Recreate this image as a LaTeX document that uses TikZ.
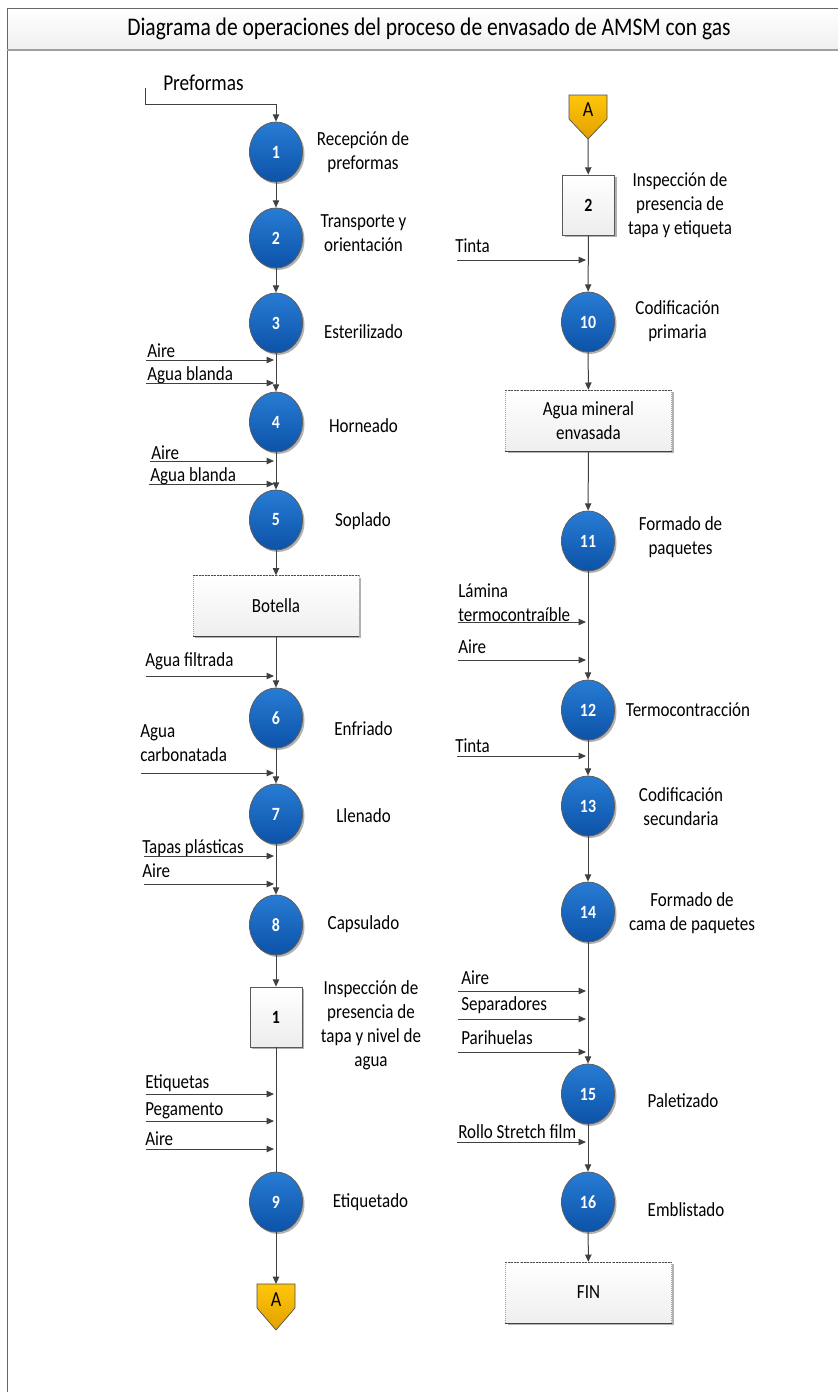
\documentclass[tikz,border=0pt]{standalone}
\usepackage{fontspec}
\setmainfont{Carlito}[FakeStretch=0.85]
\usetikzlibrary{arrows.meta,shapes.geometric,shadows}

\definecolor{opblueA}{RGB}{40,124,212}
\definecolor{opblueB}{RGB}{12,82,168}
\definecolor{linegray}{RGB}{64,64,64}
\definecolor{goldtop}{RGB}{255,198,10}
\definecolor{goldbot}{RGB}{226,160,0}

\newcommand{\lblfont}{\fontsize{15}{18}\selectfont}

\tikzset{
  softshadow/.style={drop shadow={shadow xshift=1.5pt, shadow yshift=-1.5pt, fill=black, opacity=0.3}},
  opnode/.style={ellipse, minimum width=39.75pt, minimum height=45pt, inner sep=0pt,
    draw=linegray!85, line width=0.6pt, top color=opblueA, bottom color=opblueB,
    text=white, font=\fontsize{14}{16}\selectfont\bfseries, softshadow},
  inspnode/.style={rectangle, minimum width=39pt, minimum height=45pt, inner sep=0pt,
    draw=gray!70!black, line width=0.6pt, top color=white, bottom color=gray!14,
    font=\fontsize{14}{16}\selectfont\bfseries, softshadow},
  statebox/.style={rectangle, minimum width=124.5pt, minimum height=45.5pt, inner sep=0pt,
    draw=gray!70, densely dotted, line width=0.5pt, top color=white, bottom color=gray!13,
    align=center, font=\lblfont, softshadow},
  lbl/.style={align=center, font=\lblfont, inner sep=0pt},
  inlbl/.style={anchor=west, align=left, font=\lblfont, inner sep=0pt},
  flow/.style={draw=linegray, line width=0.75pt, -{Triangle[length=5.5pt,width=4.8pt]}},
  plain/.style={draw=linegray, line width=0.75pt},
}

\newcommand{\boxedges}[1]{%
  \draw[gray!60!black, line width=0.5pt, dash pattern=on 1.5pt off 0.8pt] (#1.north west) -- (#1.north east);
  \draw[linegray, line width=1pt] (#1.south west) -- (#1.south east);}

\begin{document}
\begin{tikzpicture}[x=0.75pt,y=-0.75pt]
\useasboundingbox (0,0) rectangle (838,1392);

% frame and title band
\shade[top color=white, bottom color=gray!12] (7,8) rectangle (838,50);
\draw[gray!80!black, line width=0.7pt] (7,1392) -- (7,8) -- (838,8);
\draw[gray!75, line width=1pt] (7,50) -- (838,50);
\node[font=\fontsize{19}{22}\selectfont, inner sep=0pt] (title) at (429,29)
  {Diagrama de operaciones del proceso de envasado de AMSM con gas};

% ---------------- left column ----------------
\node[inlbl, font=\fontsize{17}{20}\selectfont] (pftxt) at (163,83) {Preformas};
\coordinate (pf) at (145,88);

\node[opnode] (o1) at (276,152) {1};
\node[opnode] (o2) at (276,238) {2};
\node[opnode] (o3) at (276,323) {3};
\node[opnode] (o4) at (276,422) {4};
\node[opnode] (o5) at (276,520) {5};
\node[statebox] (bot) at (276,606) {Botella};
\boxedges{bot}
\node[opnode] (o6) at (276,718) {6};
\node[opnode] (o7) at (276,814) {7};
\node[opnode] (o8) at (276,925) {8};
\node[inspnode] (i1) at (276,1017) {1};
\node[opnode] (o9) at (276,1202) {9};

% off-page connector A (out)
\coordinate (aoutT) at (276,1284);
\shade[top color=goldtop, bottom color=goldbot, draw=gray!60!black, line width=0.5pt]
  (257,1284) -- (295,1284) -- (295,1308) -- (276,1330) -- (257,1308) -- cycle;
\node[font=\fontsize{16}{18}\selectfont, inner sep=0pt] (aout) at (276,1300) {A};

% step labels
\node[lbl] (l1) at (363,152) {Recepción de\\preformas};
\node[lbl] (l2) at (363.5,233) {Transporte y\\orientación};
\node[lbl] (l3) at (363.5,332) {Esterilizado};
\node[lbl] (l4) at (363.5,426) {Horneado};
\node[lbl] (l5) at (363,521) {Soplado};
\node[lbl] (l6) at (363.5,729) {Enfriado};
\node[lbl] (l7) at (363.5,816) {Llenado};
\node[lbl] (l8) at (363.5,924) {Capsulado};
\node[lbl] (li1) at (371,1025.5) {Inspección de\\presencia de\\tapa y nivel de\\agua};
\node[lbl] (l9) at (370.5,1202) {Etiquetado};

% main flow
\draw[flow] (pf) -- (145,104) -- (276,104) -- (o1);
\draw[flow] (o1) -- (o2);
\draw[flow] (o2) -- (o3);
\draw[flow] (o3) -- (o4);
\draw[flow] (o4) -- (o5);
\draw[flow] (o5) -- (bot);
\draw[flow] (bot) -- (o6);
\draw[flow] (o6) -- (o7);
\draw[flow] (o7) -- (o8);
\draw[flow] (o8) -- (i1);
\draw[plain] (i1) -- (o9);
\draw[flow] (o9) -- (aoutT);

% inputs, left column
\node[inlbl] (n1) at (147,351) {Aire};
\coordinate (s1) at (146,360); \coordinate (e1) at (274,360);
\draw[flow] (s1) -- (e1);
\node[inlbl] (n2) at (147,375) {Agua blanda};
\coordinate (s2) at (146,383); \coordinate (e2) at (274,383);
\draw[flow] (s2) -- (e2);
\node[inlbl] (n3) at (151,453) {Aire};
\coordinate (s3) at (150,461); \coordinate (e3) at (274,461);
\draw[flow] (s3) -- (e3);
\node[inlbl] (n4) at (150,476) {Agua blanda};
\coordinate (s4) at (149,484); \coordinate (e4) at (274,484);
\draw[flow] (s4) -- (e4);
\node[inlbl] (n5) at (145,661) {Agua filtrada};
\coordinate (s5) at (146,676); \coordinate (e5) at (274,676);
\draw[flow] (s5) -- (e5);
\node[inlbl] (n6) at (140,743) {Agua\\carbonatada};
\coordinate (s6) at (141,773); \coordinate (e6) at (274,773);
\draw[flow] (s6) -- (e6);
\node[inlbl] (n7) at (142,848) {Tapas plásticas};
\coordinate (s7) at (144,856); \coordinate (e7) at (274,856);
\draw[flow] (s7) -- (e7);
\node[inlbl] (n8) at (142,871) {Aire};
\coordinate (s8) at (144,884); \coordinate (e8) at (274,884);
\draw[flow] (s8) -- (e8);
\node[inlbl] (n9) at (145,1083) {Etiquetas};
\coordinate (s9) at (146,1094); \coordinate (e9) at (274,1094);
\draw[flow] (s9) -- (e9);
\node[inlbl] (n10) at (145,1111) {Pegamento};
\coordinate (s10) at (146,1121); \coordinate (e10) at (274,1121);
\draw[flow] (s10) -- (e10);
\node[inlbl] (n11) at (145,1139) {Aire};
\coordinate (s11) at (146,1149); \coordinate (e11) at (274,1149);
\draw[flow] (s11) -- (e11);

% ---------------- right column ----------------
\shade[top color=goldtop, bottom color=goldbot, draw=gray!60!black, line width=0.5pt]
  (569,95) -- (607,95) -- (607,119) -- (588,139) -- (569,119) -- cycle;
\node[font=\fontsize{16}{18}\selectfont, inner sep=0pt] (ain) at (588,110) {A};
\coordinate (ainB) at (588,139);

\node[inspnode] (i2) at (588.5,205) {2};
\node[opnode] (o10) at (588,322) {10};
\node[statebox] (agua) at (588.5,420.5) {Agua mineral\\envasada};
\boxedges{agua}
\node[opnode] (o11) at (588,541) {11};
\node[opnode] (o12) at (588,710) {12};
\node[opnode] (o13) at (588,806) {13};
\node[opnode] (o14) at (588,912) {14};
\node[opnode] (o15) at (588,1094) {15};
\node[opnode] (o16) at (588,1202) {16};
\node[statebox] (fin) at (588.5,1292.5) {FIN};
\boxedges{fin}

\node[lbl] (li2) at (680,205) {Inspección de\\presencia de\\tapa y etiqueta};
\node[lbl] (l10) at (677.5,321) {Codificación\\primaria};
\node[lbl] (l11) at (680.5,537) {Formado de\\paquetes};
\node[lbl] (l12) at (688,710) {Termocontracción};
\node[lbl] (l13) at (681,807) {Codificación\\secundaria};
\node[lbl] (l14) at (692,913) {Formado de\\cama de paquetes};
\node[lbl] (l15) at (683,1101) {Paletizado};
\node[lbl] (l16) at (686,1210) {Emblistado};

\draw[flow] (ainB) -- (i2);
\draw[flow] (i2) -- (o10);
\draw[flow] (o10) -- (agua);
\draw[flow] (agua) -- (o11);
\draw[flow] (o11) -- (o12);
\draw[flow] (o12) -- (o13);
\draw[flow] (o13) -- (o14);
\draw[flow] (o14) -- (o15);
\draw[flow] (o15) -- (o16);
\draw[flow] (o16) -- (fin);

% inputs, right column
\node[inlbl] (m1) at (455,246) {Tinta};
\coordinate (t1) at (457,260); \coordinate (f1) at (586,260);
\draw[flow] (t1) -- (f1);
\node[inlbl] (m2) at (458,602.5) {Lámina\\termocontraíble};
\coordinate (t2) at (458,622); \coordinate (f2) at (586,622);
\draw[flow] (t2) -- (f2);
\node[inlbl] (m3) at (458,647) {Aire};
\coordinate (t3) at (458,660); \coordinate (f3) at (586,660);
\draw[flow] (t3) -- (f3);
\node[inlbl] (m4) at (455,746) {Tinta};
\coordinate (t4) at (457,756); \coordinate (f4) at (586,756);
\draw[flow] (t4) -- (f4);
\node[inlbl] (m5) at (461,978) {Aire};
\coordinate (t5) at (458,991); \coordinate (f5) at (586,991);
\draw[flow] (t5) -- (f5);
\node[inlbl] (m6) at (461,1005) {Separadores};
\coordinate (t6) at (458,1019); \coordinate (f6) at (586,1019);
\draw[flow] (t6) -- (f6);
\node[inlbl] (m7) at (461,1038) {Parihuelas};
\coordinate (t7) at (458,1052); \coordinate (f7) at (586,1052);
\draw[flow] (t7) -- (f7);
\node[inlbl] (m8) at (458,1132) {Rollo Stretch film};
\coordinate (t8) at (457,1142); \coordinate (f8) at (586,1142);
\draw[flow] (t8) -- (f8);
\end{tikzpicture}
\end{document}
